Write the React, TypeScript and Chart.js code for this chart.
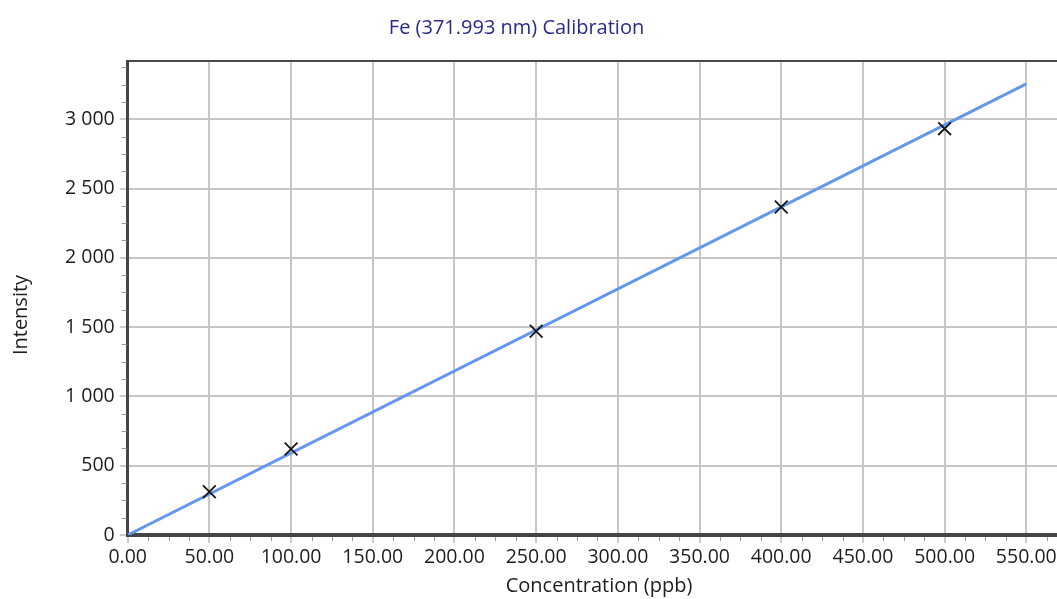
import React, { useEffect, useRef } from "react";
import { Chart, registerables } from "chart.js";

Chart.register(...registerables);

const chartTitle = "Fe (371.993 nm) Calibration";
const xAxisTitle = "Concentration (ppb)";
const yAxisTitle = "Intensity";

// Standards (concentration ppb, measured intensity)
const concentrations = [50, 100, 250, 400, 500];
const intensities = [312, 621, 1470, 2367, 2932];

// Calibration fit line endpoints
const fitConcentrations = [0, 550];
const fitIntensities = [0, 3255];

// Tick values
const xTickValues = [0, 50, 100, 150, 200, 250, 300, 350, 400, 450, 500, 550, 600];
const yTickValues = [0, 500, 1000, 1500, 2000, 2500, 3000];

const xMin = 0;
const xMax = 600;
const xStep = 50;
const xMinorStep = 12.5;
const yMin = 0;
const yMax = 3420;
const yStep = 500;
const yMinorStep = 125;

const FONT = "'Open Sans', 'Noto Sans', sans-serif";

const formatY = (v: number) =>
  String(Math.round(v)).replace(/\B(?=(\d{3})+(?!\d))/g, " ");
const formatX = (v: number) => v.toFixed(2);

const extrasPlugin = {
  id: "extras",
  afterDraw(chart: any) {
    const { ctx, chartArea, scales } = chart;
    const xs = scales.x;
    const ys = scales.y;
    ctx.save();
    ctx.strokeStyle = "#9a9a9a";
    ctx.lineWidth = 1;
    // minor ticks on y axis
    for (let v = yMin; v <= yMax; v += yMinorStep) {
      if (v % yStep === 0) continue;
      const py = Math.round(ys.getPixelForValue(v)) + 0.5;
      ctx.beginPath();
      ctx.moveTo(chartArea.left - 6, py);
      ctx.lineTo(chartArea.left - 1, py);
      ctx.stroke();
    }
    // minor ticks on x axis
    for (let v = xMin; v <= xMax; v += xMinorStep) {
      if (v % xStep === 0) continue;
      const px = Math.round(xs.getPixelForValue(v)) + 0.5;
      ctx.beginPath();
      ctx.moveTo(px, chartArea.bottom + 2);
      ctx.lineTo(px, chartArea.bottom + 6);
      ctx.stroke();
    }
    // top border
    ctx.strokeStyle = "#4a4a4a";
    ctx.lineWidth = 2;
    ctx.beginPath();
    ctx.moveTo(chartArea.left, chartArea.top);
    ctx.lineTo(chartArea.right, chartArea.top);
    ctx.stroke();

    // titles
    ctx.textAlign = "center";
    ctx.textBaseline = "middle";
    ctx.font = `20px ${FONT}`;
    ctx.fillStyle = "#2b2b8c";
    ctx.fillText(chartTitle, 516.5, 28);
    ctx.fillStyle = "#1e1e1e";
    ctx.fillText(xAxisTitle, 599, 586);
    ctx.translate(21, 315);
    ctx.rotate(-Math.PI / 2);
    ctx.fillText(yAxisTitle, 0, 0);
    ctx.restore();
  },
};

export default function App() {
  const canvasRef = useRef<HTMLCanvasElement | null>(null);

  useEffect(() => {
    const canvas = canvasRef.current;
    if (!canvas) return;
    const chart = new Chart(canvas, {
      type: "scatter",
      data: {
        datasets: [
          {
            label: "Standards",
            data: concentrations.map((c, i) => ({ x: c, y: intensities[i] })),
            pointStyle: "crossRot",
            pointRadius: 9,
            pointHoverRadius: 9,
            pointBorderWidth: 1.8,
            borderColor: "#151515",
            backgroundColor: "#151515",
            showLine: false,
          },
          {
            label: "Fit",
            data: fitConcentrations.map((c, i) => ({ x: c, y: fitIntensities[i] })),
            showLine: true,
            borderColor: "#6597ee",
            borderWidth: 3,
            pointRadius: 0,
            pointHoverRadius: 0,
            fill: false,
          },
        ],
      },
      options: {
        responsive: false,
        animation: false,
        devicePixelRatio: 1,
        layout: { padding: { left: 0, right: 40, top: 61, bottom: 0 } },
        plugins: {
          legend: { display: false },
          tooltip: { enabled: false },
          title: { display: false },
        },
        scales: {
          x: {
            type: "linear",
            min: xMin,
            max: xMax,
            afterFit(scale: any) {
              scale.height = 64;
            },
            afterBuildTicks(scale: any) {
              scale.ticks = xTickValues.map((v) => ({ value: v }));
            },
            ticks: {
              callback: (v: any) => formatX(Number(v)),
              color: "#1e1e1e",
              font: { family: FONT, size: 19.5 },
              padding: 3,
              maxRotation: 0,
              autoSkip: false,
            },
            grid: {
              color: "#c6c6c6",
              lineWidth: 2,
              tickLength: 8,
              tickColor: "#9a9a9a",
              tickWidth: 1,
            },
            border: { display: true, color: "#454545", width: 4 },
            title: { display: false },
          },
          y: {
            type: "linear",
            min: yMin,
            max: yMax,
            afterFit(scale: any) {
              scale.width = 127.7;
            },
            afterBuildTicks(scale: any) {
              scale.ticks = yTickValues.map((v) => ({ value: v }));
            },
            ticks: {
              callback: (v: any) => formatY(Number(v)),
              color: "#1e1e1e",
              font: { family: FONT, size: 19.5 },
              padding: 5,
              autoSkip: false,
            },
            grid: {
              color: "#c6c6c6",
              lineWidth: 2,
              tickLength: 8,
              tickColor: "#9a9a9a",
              tickWidth: 1,
            },
            border: { display: true, color: "#454545", width: 3 },
            title: { display: false },
          },
        },
      },
      plugins: [extrasPlugin],
    } as any);
    return () => chart.destroy();
  }, []);

  return (
    <div
      style={{
        position: "absolute",
        left: 0,
        top: 0,
        width: 1057,
        height: 599,
        overflow: "hidden",
        background: "#ffffff",
      }}
    >
      <canvas
        ref={canvasRef}
        width={1148}
        height={599}
        style={{ display: "block", width: 1148, height: 599 }}
      />
    </div>
  );
}
